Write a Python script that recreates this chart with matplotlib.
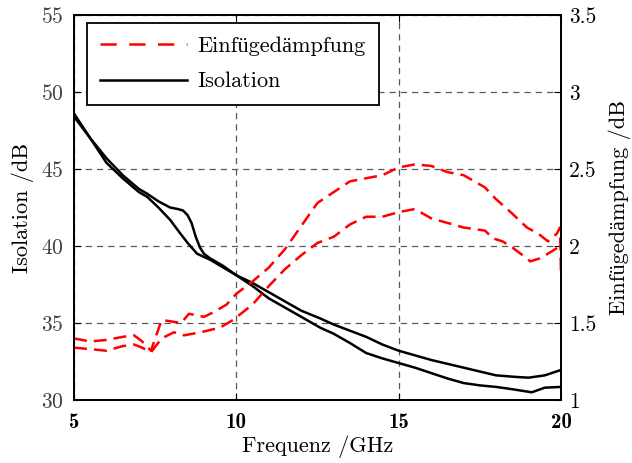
import matplotlib
matplotlib.use("Agg")
import matplotlib.pyplot as plt

plt.rcParams["font.family"] = ["cmr10", "Liberation Serif"]
plt.rcParams["axes.formatter.use_mathtext"] = True
plt.rcParams["font.size"] = 15.5

# isolation curves (left axis, dB)
iso_a_f = [5, 5.5, 6, 6.5, 7, 7.25, 7.6, 7.96, 8.2, 8.36, 8.5, 8.62, 8.75, 8.88, 9.0,
           9.19, 9.6, 10, 10.5, 11, 11.5, 12, 12.58, 13, 13.5, 14, 14.5, 15, 15.5, 16,
           16.5, 17, 17.5, 18, 18.6, 19, 19.5, 20]
iso_a = [48.6, 47.0, 45.7, 44.6, 43.7, 43.4, 42.9, 42.5, 42.4, 42.3, 42.0, 41.5, 40.6,
         39.9, 39.5, 39.2, 38.7, 38.1, 37.6, 37.0, 36.4, 35.8, 35.3, 34.9, 34.5, 34.1,
         33.6, 33.2, 32.9, 32.6, 32.35, 32.1, 31.85, 31.6, 31.5, 31.45, 31.6, 31.95]

iso_b_f = [5, 5.5, 6, 6.5, 7, 7.25, 7.6, 7.96, 8.26, 8.5, 8.79, 9.2, 9.6, 10, 10.5, 11,
           11.5, 12, 12.58, 13, 13.5, 14, 14.5, 15, 15.5, 16, 16.5, 17, 17.5, 18, 18.5,
           19.1, 19.5, 20]
iso_b = [48.4, 47.0, 45.4, 44.4, 43.5, 43.2, 42.5, 41.7, 40.85, 40.2, 39.5, 39.1, 38.6,
         38.1, 37.4, 36.6, 36.0, 35.4, 34.7, 34.3, 33.7, 33.05, 32.7, 32.4, 32.1, 31.75,
         31.4, 31.1, 30.95, 30.85, 30.7, 30.5, 30.8, 30.85]

# insertion loss curves (right axis, dB)
ins_c_f = [5, 5.5, 6, 6.5, 6.85, 7.1, 7.37, 7.7, 8.0, 8.3, 8.54, 9.0, 9.3, 9.7, 10,
           10.5, 11, 11.5, 12, 12.5, 13, 13.5, 14, 14.5, 15, 15.5, 16, 16.5, 17, 17.66,
           17.97, 18.5, 18.95, 19.3, 19.6, 19.87, 19.97, 20]
ins_c = [1.40, 1.38, 1.39, 1.41, 1.42, 1.38, 1.32, 1.52, 1.51, 1.50, 1.56, 1.54, 1.57,
         1.62, 1.69, 1.77, 1.86, 1.98, 2.13, 2.28, 2.35, 2.42, 2.44, 2.46, 2.51, 2.53,
         2.52, 2.48, 2.46, 2.38, 2.31, 2.21, 2.12, 2.08, 2.03, 2.08, 2.12, 1.82]

ins_d_f = [5, 5.5, 6, 6.5, 6.85, 7.1, 7.37, 7.7, 8.08, 8.39, 8.9, 9.5, 9.9, 10.5, 11,
           11.5, 12, 12.5, 13, 13.5, 14, 14.5, 15, 15.5, 16, 16.5, 17, 17.66, 17.9, 18.2,
           18.5, 18.95, 19.05, 19.35, 19.6, 19.9, 20]
ins_d = [1.34, 1.33, 1.32, 1.35, 1.36, 1.34, 1.31, 1.40, 1.44, 1.42, 1.44, 1.47, 1.52,
         1.62, 1.74, 1.85, 1.94, 2.02, 2.06, 2.14, 2.19, 2.19, 2.22, 2.24, 2.18, 2.15,
         2.12, 2.10, 2.05, 2.03, 1.99, 1.92, 1.90, 1.92, 1.95, 1.99, 2.0]

fig = plt.figure(figsize=(6.32, 4.63), dpi=100)
ax1 = fig.add_axes([74 / 632, 1 - 400 / 463, 487 / 632, 385 / 463])
ax2 = ax1.twinx()

red_kw = dict(color="red", lw=1.8, dashes=(5.2, 2.8))
ax2.plot(ins_c_f, ins_c, **red_kw)
ax2.plot(ins_d_f, ins_d, **red_kw)
ax1.plot(iso_a_f, iso_a, color="black", lw=1.8)
ax1.plot(iso_b_f, iso_b, color="black", lw=1.8)

ax1.set_xlim(5, 20)
ax1.set_ylim(30, 55)
ax2.set_ylim(1, 3.5)
ax1.set_xticks([5, 10, 15, 20])
ax1.set_xticklabels(["5", "10", "15", "20"], family="cmb10", fontsize=15)
ax1.set_yticks([30, 35, 40, 45, 50, 55])
ax2.set_yticks([1, 1.5, 2, 2.5, 3, 3.5])
ax2.set_yticklabels(["1", "1.5", "2", "2.5", "3", "3.5"])

ax1.grid(True, color="0.35", ls=(0, (5, 4)), lw=0.9)
ax1.tick_params(direction="in", top=True, length=5)
ax1.tick_params(axis="x", pad=9)
ax1.tick_params(axis="y", pad=7.5, labelcolor="0.25")
ax2.tick_params(direction="in", length=5, pad=6)

ax1.set_xlabel("Frequenz /GHz", fontsize=16, labelpad=3)
ax1.set_ylabel("Isolation /dB", fontsize=16, labelpad=5)
ax2.set_ylabel("Einfügedämpfung /dB", fontsize=16, labelpad=8)

for ax in (ax1, ax2):
    for s in ax.spines.values():
        s.set_linewidth(1.3)

h_red, = ax1.plot([], [], color="red", lw=1.8, dashes=(6.5, 5))
h_blk, = ax1.plot([], [], color="black", lw=1.8)
leg = ax1.legend([h_red, h_blk], ["Einfügedämpfung", "Isolation"], loc="upper left",
                 bbox_to_anchor=(13 / 487, 1 - 8 / 385), borderaxespad=0,
                 fancybox=False, edgecolor="black", framealpha=1, fontsize=16,
                 handlelength=3.9, handletextpad=0.45, labelspacing=0.72,
                 borderpad=0.6)
leg.get_frame().set_linewidth(1.3)

fig.savefig("out.png", dpi=100)
